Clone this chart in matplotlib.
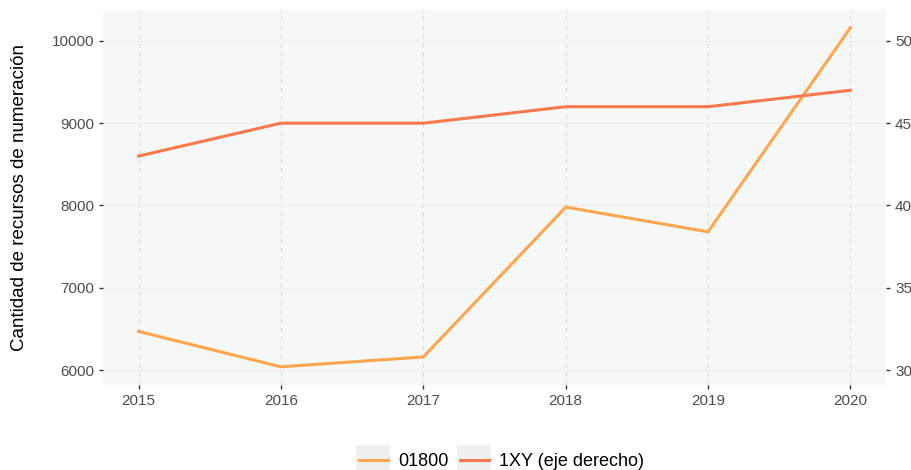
import matplotlib
matplotlib.use("Agg")
import matplotlib.pyplot as plt
from matplotlib.legend_handler import HandlerLine2D
from matplotlib.patches import Rectangle

plt.rcParams['font.family'] = ['Liberation Sans', 'DejaVu Sans']

years = [2015, 2016, 2017, 2018, 2019, 2020]
serie_01800 = [6470, 6040, 6160, 7980, 7680, 10160]
serie_1xy = [43, 45, 45, 46, 46, 47]
left_ticks = [6000, 7000, 8000, 9000, 10000]
right_ticks = [30, 35, 40, 45, 50]

c_01800 = '#FDA64F'
c_1xy = '#F67A4E'
panel_bg = '#F6F7F7'
tick_col = '#4D4D4D'

fig = plt.figure(figsize=(9.12, 4.70), dpi=100)
ax = fig.add_axes([103/912, 1-385/470, (886-103)/912, (385-10)/470])
ax.set_facecolor(panel_bg)
for s in ax.spines.values():
    s.set_visible(False)

l1, = ax.plot(years, serie_01800, color=c_01800, lw=2.2, label='01800', zorder=3)
ax.set_xlim(2014.75, 2020.25)
ax.set_ylim(5819, 10375)
ax.set_yticks(left_ticks)
ax.set_xticks(years)
ax.grid(axis='y', color='#EDEDED', lw=0.8)
ax.grid(axis='x', color='#DADADA', lw=0.8, ls=(0, (4, 4)))
ax.set_axisbelow(True)
ax.tick_params(axis='both', colors='#333333', labelcolor=tick_col, labelsize=11, length=3, width=1)
ax.set_ylabel('Cantidad de recursos de numeración', fontsize=13.5, color='black', labelpad=17)

ax2 = ax.twinx()
for s in ax2.spines.values():
    s.set_visible(False)
l2, = ax2.plot(years, serie_1xy, color=c_1xy, lw=2.2, label='1XY (eje derecho)', zorder=3)
ax2.set_ylim(30 + (5819 - 6000) / 200, 30 + (10375 - 6000) / 200)
ax2.set_yticks(right_ticks)
ax2.tick_params(axis='y', colors='#333333', labelcolor=tick_col, labelsize=11, length=3, width=1)


class BoxHandler(HandlerLine2D):
    def create_artists(self, legend, orig_handle, xdescent, ydescent, width, height, fontsize, trans):
        rect = Rectangle((-xdescent - 2, -ydescent - 6), width + 4, height + 12,
                         facecolor='#F0F0F0', edgecolor='none', transform=trans)
        arts = super().create_artists(legend, orig_handle, xdescent, ydescent, width, height, fontsize, trans)
        return [rect] + list(arts)


fig.legend(handles=[l1, l2], loc='lower center', bbox_to_anchor=(0.55, -0.035), ncol=2,
           frameon=False, fontsize=13, handlelength=1.6, handletextpad=0.6, columnspacing=0.6,
           handler_map={l1: BoxHandler(), l2: BoxHandler()})

fig.savefig('out.png', dpi=100)
